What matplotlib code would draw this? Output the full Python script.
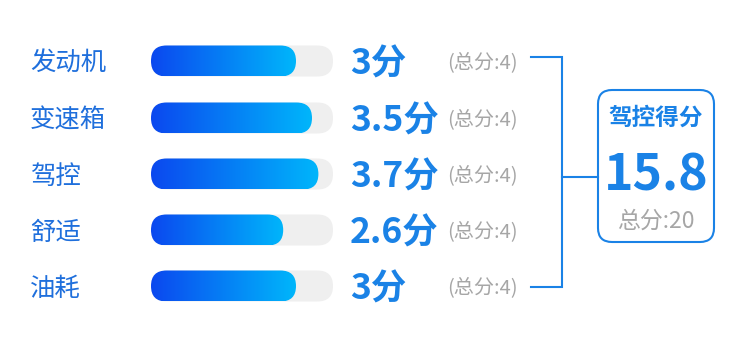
import numpy as np
import matplotlib.pyplot as plt
from matplotlib.patches import FancyBboxPatch
from matplotlib.colors import LinearSegmentedColormap

plt.rcParams["font.family"] = ["Noto Sans CJK SC", "DejaVu Sans"]

# Data
categories = ["发动机", "变速箱", "驾控", "舒适", "油耗"]
scores = [3, 3.5, 3.7, 2.6, 3]
max_score = 4
total_label = "驾控得分"
total_score = 15.8
total_max = 20

blue = "#1a82e6"
label_blue = "#1f6fdc"
grey = "#a6a6a6"
grad = LinearSegmentedColormap.from_list("g", ["#0b48ef", "#00b6fb"])

fig = plt.figure(figsize=(7.5, 3.39), dpi=100)
ax = fig.add_axes([0, 0, 1, 1])
ax.set_xlim(0, 750)
ax.set_ylim(339, 0)
ax.axis("off")

rows_y = [61, 118, 174, 230, 286]
bar_x0, bar_w, bar_h = 151, 182, 31


def score_to_x(s):
    # bar end position: 0 -> 200 px, max -> 328 px
    return 200 + (328 - 200) * s / max_score


for y, name, s in zip(rows_y, categories, scores):
    ax.text(30, y + 3, name, fontsize=18.3, color=label_blue, va="center", ha="left")
    # background track
    bg = FancyBboxPatch((bar_x0, y - bar_h / 2), bar_w, bar_h,
                        boxstyle=f"round,pad=0,rounding_size={bar_h/2}",
                        fc="#efefef", ec="none", zorder=1)
    ax.add_patch(bg)
    # gradient fill
    w = score_to_x(s) - bar_x0
    fg = FancyBboxPatch((bar_x0, y - bar_h / 2), w, bar_h,
                        boxstyle=f"round,pad=0,rounding_size={bar_h/2}",
                        fc="none", ec="none", zorder=2)
    ax.add_patch(fg)
    im = ax.imshow(np.linspace(0, 1, 256)[None, :], cmap=grad, aspect="auto",
                   extent=(bar_x0, bar_x0 + w, y + bar_h / 2, y - bar_h / 2),
                   interpolation="bilinear", zorder=3)
    im.set_clip_path(fg)
    ax.text(350, y + 3, f"{s:g}分", fontsize=25.5, fontweight="bold", color=blue,
            va="center", ha="left")
    ax.text(518, y + 2, f"(总分:{max_score})", fontsize=14.5, color=grey,
            va="center", ha="right")

ax.set_xlim(0, 750)
ax.set_ylim(339, 0)

# bracket
bx = 562
ax.plot([531, bx, bx, 531], [57, 57, 287, 287], color=blue, lw=1.5,
        solid_joinstyle="miter")
ax.plot([bx, 598], [177, 177], color=blue, lw=1.5)

# summary box
box = FancyBboxPatch((598, 90), 116, 152,
                     boxstyle="round,pad=0,rounding_size=14",
                     fc="white", ec=blue, lw=1.5)
ax.add_patch(box)
ax.text(656, 118, total_label, fontsize=17, fontweight="bold", color=blue,
        ha="center", va="center")
ax.text(656, 176, f"{total_score:g}", fontsize=36, fontweight="bold", color=blue,
        ha="center", va="center")
ax.text(656, 221, f"总分:{total_max}", fontsize=16.5, color=grey,
        ha="center", va="center")

fig.savefig("out.png", dpi=100)
